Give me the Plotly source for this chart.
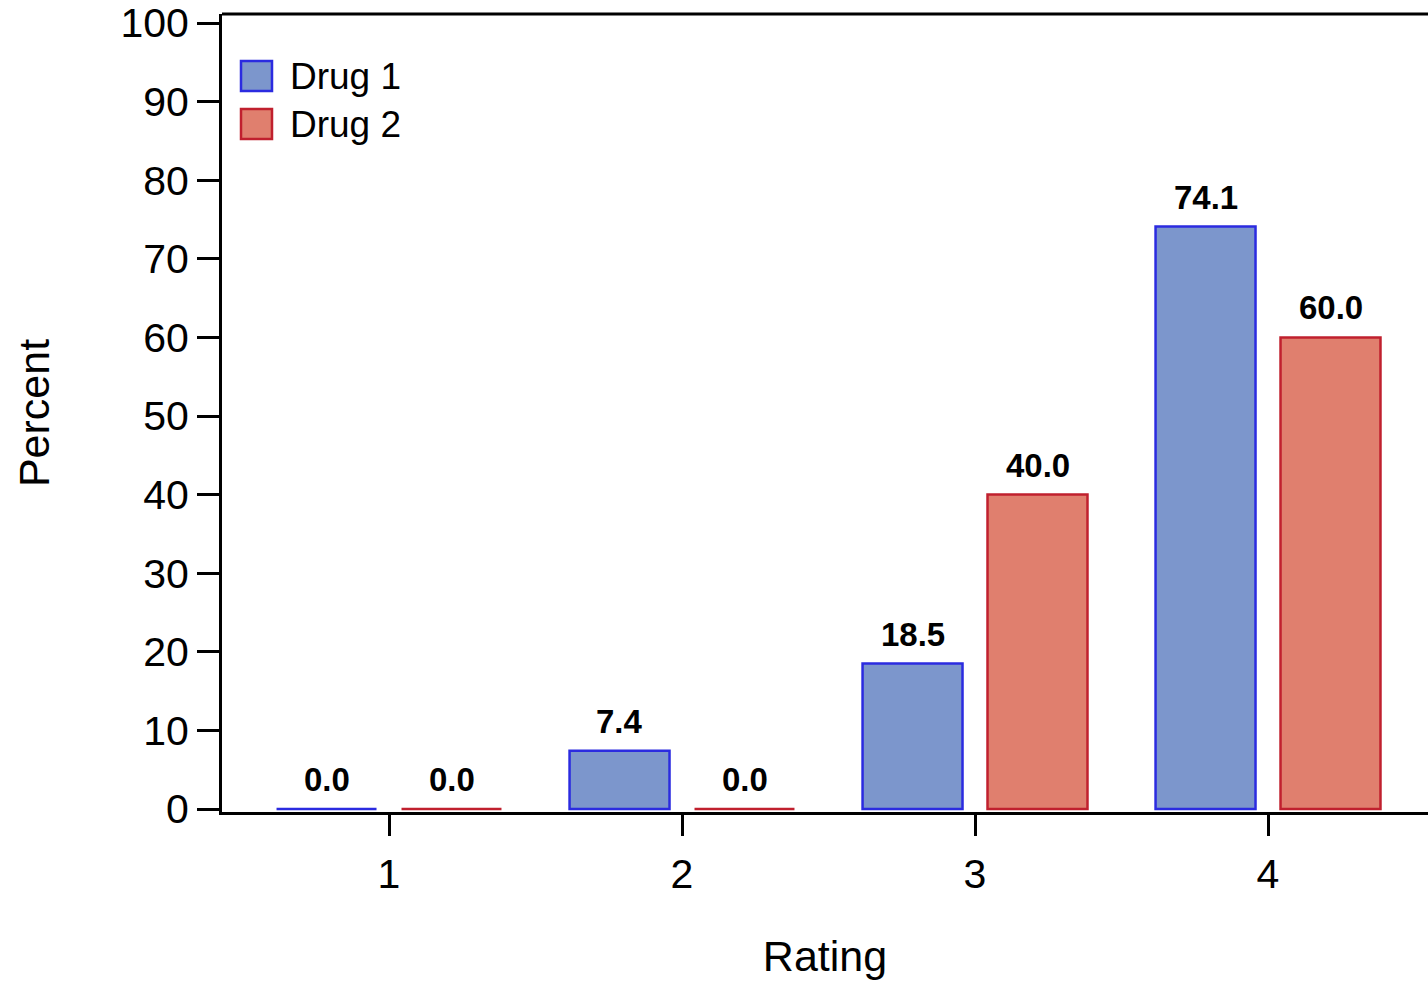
import plotly.graph_objects as go

categories = [1, 2, 3, 4]
drug1 = [0.0, 7.4, 18.5, 74.1]
drug2 = [0.0, 0.0, 40.0, 60.0]
series_names = ["Drug 1", "Drug 2"]
y_ticks = list(range(0, 101, 10))

FONT = "Liberation Sans, Arial, sans-serif"
fill1, line1 = "#7C96CC", "#2B2BE0"
fill2, line2 = "#E07F6E", "#C0202E"

W, H = 1428, 981
ML, MR, MT, MB = 222, 0, 14, 169
PW, PH = W - ML - MR, H - MT - MB

fig = go.Figure()
fig.add_trace(go.Bar(x=categories, y=drug1, name=series_names[0],
                     marker=dict(color=fill1, line=dict(color=line1, width=2.5))))
fig.add_trace(go.Bar(x=categories, y=drug2, name=series_names[1],
                     marker=dict(color=fill2, line=dict(color=line2, width=2.5))))

annotations = []
for vals, shift in ((drug1, -62.5), (drug2, 62.5)):
    for c, v in zip(categories, vals):
        annotations.append(dict(x=c, y=v, xref="x", yref="y", xshift=shift, yshift=9,
                                text="<b>%.1f</b>" % v, showarrow=False, yanchor="bottom",
                                font=dict(family=FONT, size=33, color="black")))

def px_x(p):
    return (p - ML) / PW

def px_y(p):
    return (H - MB - p) / PH

shapes = [dict(type="line", xref="paper", yref="paper", x0=0, x1=1, y0=1, y1=1,
               line=dict(color="black", width=3))]
for (top, bot), fc, lc, name in (((61, 91), fill1, line1, series_names[0]),
                                 ((109, 139), fill2, line2, series_names[1])):
    shapes.append(dict(type="rect", xref="paper", yref="paper",
                       x0=px_x(241), x1=px_x(272), y0=px_y(bot), y1=px_y(top),
                       fillcolor=fc, line=dict(color=lc, width=2.5)))
    annotations.append(dict(x=px_x(288), y=px_y((top + bot) / 2), xref="paper", yref="paper",
                            text=name, showarrow=False, xanchor="left", yanchor="middle",
                            font=dict(family=FONT, size=37, color="black")))

fig.update_layout(
    width=W, height=H,
    margin=dict(l=ML, r=MR, t=MT, b=MB, pad=0),
    paper_bgcolor="white", plot_bgcolor="white",
    barmode="group", bargap=0.147, bargroupgap=0.2,
    showlegend=False,
    font=dict(family=FONT, color="black"),
    shapes=shapes, annotations=annotations,
)
fig.update_xaxes(range=[0.43, 4.546], tickmode="array", tickvals=categories,
                 ticktext=[str(c) for c in categories],
                 showline=True, linecolor="black", linewidth=3,
                 ticks="outside", ticklen=21, tickwidth=3, tickcolor="black",
                 tickfont=dict(size=41, family=FONT), ticklabelstandoff=3,
                 showgrid=False, zeroline=False,
                 title=dict(text="Rating", font=dict(size=43, family=FONT), standoff=45))
fig.update_yaxes(range=[-0.38, 101.15], tickmode="array", tickvals=y_ticks,
                 showline=True, linecolor="black", linewidth=3,
                 ticks="outside", ticklen=22, tickwidth=3, tickcolor="black",
                 tickfont=dict(size=41, family=FONT), showgrid=False, zeroline=False,
                 title=dict(text="Percent", font=dict(size=43, family=FONT), standoff=58))

fig.write_html("out.html", config={"displayModeBar": False},
               post_script="document.body.style.margin='0';document.body.style.overflow='hidden';")
